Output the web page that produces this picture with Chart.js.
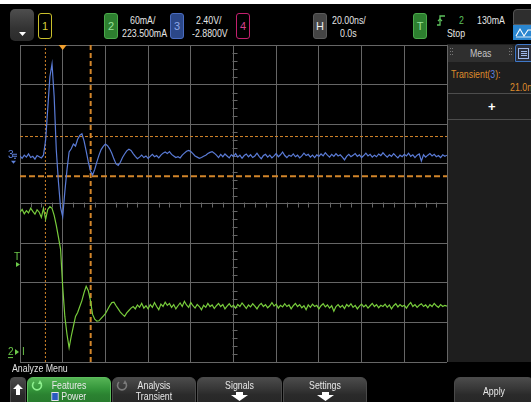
<!DOCTYPE html>
<html>
<head>
<meta charset="utf-8">
<script src="https://cdn.jsdelivr.net/npm/chart.js@4.4.0/dist/chart.umd.min.js"></script>
<style>
  html, body { margin: 0; padding: 0; background: #000; }
  body { width: 531px; height: 402px; position: relative; overflow: hidden;
         font-family: "Liberation Sans", Arial, sans-serif; color: #e6e6e6; }
  .abs { position: absolute; }
  .txt { position: absolute; font-size: 11px; line-height: 11px; white-space: nowrap;
         transform: scaleX(0.8); transform-origin: 0 0; }
  .chbox { position: absolute; top: 13px; width: 14px; height: 26px; box-sizing: border-box; border-radius: 3px;
           font-size: 11px; line-height: 24px; text-align: center; border: 1px solid; }
  .btn { position: absolute; top: 377px; height: 30px; border-radius: 6px; box-sizing: border-box;
         background: linear-gradient(#4b4b4b, #363636 40%, #2a2a2a 60%, #262626); border: 1px solid #4a4a4a; }
  .btn .l1, .btn .l2 { position: absolute; left: 0; right: 0; text-align: center; font-size: 11px; line-height: 11px;
         color: #e8e8e8; white-space: nowrap; transform: scaleX(0.8); transform-origin: 50% 0; }
  .btn .l1 { top: 2px; }
  .btn .l2 { top: 13px; }
  canvas { position: absolute; left: 0; top: 40px; }
</style>
</head>
<body>
<!-- top bar -->
<div class="abs" style="left:0;top:0;width:531px;height:4px;background:#fff"></div>
<div class="abs" style="left:10px;top:9px;width:24px;height:32px;border-radius:5px;background:linear-gradient(#4e4e4e,#333 60%,#2b2b2b);"></div>
<svg class="abs" style="left:19px;top:32px" width="7" height="4"><polygon points="0,0 7,0 3.5,4" fill="#fff"/></svg>

<div class="chbox" style="left:38px;border-color:#c9bf2c;color:#d8cf3a;">1</div>
<div class="chbox" style="left:104px;border-color:#4aa84a;background:#2d7f2f;color:#9be39b;">2</div>
<div class="txt" style="left:130px;top:15px">60mA/</div>
<div class="txt" style="left:122px;top:28px">223.500mA</div>
<div class="chbox" style="left:170px;border-color:#4a6cc0;background:#2b4788;color:#8fa8e8;">3</div>
<div class="txt" style="left:196px;top:15px">2.40V/</div>
<div class="txt" style="left:192px;top:28px">-2.8800V</div>
<div class="chbox" style="left:236px;border-color:#c3206e;color:#d8408a;">4</div>

<div class="chbox" style="left:313px;border-color:#5a5a5a;background:#444;color:#eee;">H</div>
<div class="txt" style="left:332px;top:15px">20.00ns/</div>
<div class="txt" style="left:340px;top:28px">0.0s</div>

<div class="chbox" style="left:413px;border-color:#4aa84a;background:#2d7f2f;color:#9be39b;">T</div>
<svg class="abs" style="left:436px;top:15px" width="10" height="11">
  <polyline points="1,10 4,10 4,1 9,1" fill="none" stroke="#5ec25e" stroke-width="1.3"/>
  <polyline points="2,6 4,4 6,6" fill="none" stroke="#5ec25e" stroke-width="1.2"/>
</svg>
<div class="txt" style="left:459px;top:15px;color:#5ec25e">2</div>
<div class="txt" style="left:477px;top:15px">130mA</div>
<div class="txt" style="left:447px;top:28px">Stop</div>
<div class="abs" style="left:513px;top:9px;width:20px;height:16px;border-radius:4px 0 0 0;background:#2e2e2e;border:1px solid #555;box-sizing:border-box"></div>
<div class="abs" style="left:513px;top:25px;width:20px;height:15px;background:#2a86d0;"></div>
<svg class="abs" style="left:515px;top:27px" width="16" height="11">
  <polyline points="1,9 5,2 9,9 13,3 16,3" fill="none" stroke="#fff" stroke-width="1.1"/>
  <line x1="1" y1="10" x2="16" y2="10" stroke="#fff" stroke-width="0.8"/>
</svg>

<!-- measurement panel -->
<div class="abs" style="left:447px;top:44px;width:84px;height:318px;background:#1e1e1e"></div>
<div class="abs" style="left:447px;top:45px;width:67px;height:17px;background:#2f2f2f;border-radius:4px 4px 0 0"></div>
<div class="txt" style="left:470px;top:48px;font-size:11px;color:#c4c4c4">Meas</div>
<svg class="abs" style="left:450px;top:48px" width="4" height="7"><g fill="#777"><rect x="0" y="0" width="1" height="1"/><rect x="2" y="0" width="1" height="1"/><rect x="0" y="3" width="1" height="1"/><rect x="2" y="3" width="1" height="1"/><rect x="0" y="6" width="1" height="1"/><rect x="2" y="6" width="1" height="1"/></g></svg>
<svg class="abs" style="left:509px;top:48px" width="4" height="7"><g fill="#777"><rect x="0" y="0" width="1" height="1"/><rect x="2" y="0" width="1" height="1"/><rect x="0" y="3" width="1" height="1"/><rect x="2" y="3" width="1" height="1"/><rect x="0" y="6" width="1" height="1"/><rect x="2" y="6" width="1" height="1"/></g></svg>
<div class="abs" style="left:515px;top:44px;width:18px;height:18px;box-sizing:border-box;border:1px solid #3f78c8;border-radius:3px 0 0 0;background:#2a2e3a"></div>
<svg class="abs" style="left:518px;top:48px" width="12" height="11"><rect x="0.5" y="0.5" width="10" height="10" fill="none" stroke="#9fb8e8"/><g stroke="#9fb8e8"><line x1="3" y1="3.5" x2="9" y2="3.5"/><line x1="3" y1="5.5" x2="9" y2="5.5"/><line x1="3" y1="7.5" x2="9" y2="7.5"/></g></svg>
<div class="txt" style="left:451px;top:69px;color:#de8c2c">Transient(<span style="color:#5f82dc">3</span>):</div>
<div class="txt" style="left:510px;top:82px;color:#de8c2c">21.0ns</div>
<div class="abs" style="left:447px;top:93px;width:84px;height:1px;background:#4d4d4d"></div>
<div class="abs" style="left:488px;top:100px;font-size:13px;line-height:13px;font-weight:bold;color:#fff">+</div>
<div class="abs" style="left:447px;top:119px;width:84px;height:1px;background:#4d4d4d"></div>

<!-- scope grid and traces -->
<canvas id="scope" width="448" height="325"></canvas>

<!-- bottom menu -->
<div class="txt" style="left:12px;top:363px;color:#e0e0e0">Analyze Menu</div>
<div class="btn" style="left:10px;width:16px;border-radius:4px;"></div>
<svg class="abs" style="left:13px;top:384px" width="10" height="12"><polygon points="5,0 10,5 7,5 7,11 3,11 3,5 0,5" fill="#fff"/></svg>

<div class="btn" style="left:27px;width:84px;background:linear-gradient(#55b455,#34953a 40%,#2b8231 60%,#27782c);border-color:#5cbc5c;">
  <div class="l1">Features</div>
  <div class="l2"><span style="display:inline-block;width:7px;height:7px;background:#2a5ac0;border:1px solid #e6e6e6;vertical-align:-1px;margin-right:3px"></span>Power</div>
</div>
<svg class="abs" style="left:31px;top:380px" width="12" height="11"><path d="M3,2 A4.5,4.5 0 1 0 9,2" fill="none" stroke="#8ef08e" stroke-width="1.6"/><polygon points="9,0 11,4 7,4" fill="#8ef08e"/></svg>

<div class="btn" style="left:112px;width:84px;">
  <div class="l1">Analysis</div>
  <div class="l2">Transient</div>
</div>
<svg class="abs" style="left:116px;top:380px" width="12" height="11"><path d="M3,2 A4.5,4.5 0 1 0 9,2" fill="none" stroke="#7a7a7a" stroke-width="1.6"/><polygon points="9,0 11,4 7,4" fill="#7a7a7a"/></svg>

<div class="btn" style="left:197px;width:85px;"><div class="l1">Signals</div></div>
<svg class="abs" style="left:231px;top:392px" width="17" height="9"><polygon points="5,0 12,0 12,3 17,3 8.5,9 0,3 5,3" fill="#fff"/></svg>

<div class="btn" style="left:283px;width:84px;"><div class="l1">Settings</div></div>
<svg class="abs" style="left:317px;top:392px" width="17" height="9"><polygon points="5,0 12,0 12,3 17,3 8.5,9 0,3 5,3" fill="#fff"/></svg>

<div class="btn" style="left:454px;width:80px;"><div class="l1" style="top:8px">Apply</div></div>

<script>
// sample grid of the stored waveforms (ns)
const timeStartNs = -100;
const timeStepNs = 1;

// channel 3 (blue), in screen divisions, one sample per ns from -100 to 100
const ch3Div = [
  1.20, 1.14, 1.22, 1.17, 1.25, 1.16, 1.19, 1.12, 1.21, 1.18,
  1.15, 1.22, 1.60, 2.40, 3.20, 3.52, 2.70, 1.35, 0.55, -0.10,
  -0.33, 0.30, 0.85, 1.30, 1.38, 1.50, 1.45, 1.62, 1.72, 1.76,
  1.58, 1.32, 1.05, 0.82, 0.72, 0.86, 1.05, 1.22, 1.36, 1.44,
  1.50, 1.46, 1.38, 1.27, 1.12, 1.00, 0.96, 1.04, 1.16, 1.25,
  1.33, 1.37, 1.34, 1.26, 1.19, 1.13, 1.17, 1.22, 1.16, 1.20,
  1.14, 1.19, 1.24, 1.18, 1.21, 1.15, 1.22, 1.27, 1.30, 1.26,
  1.31, 1.24, 1.20, 1.16, 1.18, 1.15, 1.22, 1.27, 1.32, 1.34,
  1.31, 1.26, 1.20, 1.17, 1.14, 1.16, 1.19, 1.22, 1.26, 1.29,
  1.31, 1.27, 1.22, 1.16, 1.24, 1.18, 1.25, 1.20, 1.15, 1.23,
  1.19, 1.26, 1.17, 1.22, 1.14, 1.21, 1.25, 1.18, 1.23, 1.16,
  1.20, 1.27, 1.19, 1.13, 1.21, 1.24, 1.17, 1.22, 1.15, 1.20,
  1.26, 1.18, 1.23, 1.30, 1.21, 1.16, 1.22, 1.19, 1.25, 1.18,
  1.22, 1.15, 1.20, 1.27, 1.21, 1.24, 1.17, 1.22, 1.16, 1.23,
  1.19, 1.25, 1.20, 1.28, 1.22, 1.17, 1.24, 1.19, 1.26, 1.20,
  1.23, 1.17, 1.10, 1.19, 1.24, 1.18, 1.22, 1.26, 1.19, 1.23,
  1.16, 1.21, 1.27, 1.20, 1.24, 1.17, 1.22, 1.18, 1.25, 1.21,
  1.28, 1.22, 1.17, 1.23, 1.19, 1.26, 1.20, 1.15, 1.22, 1.18,
  1.24, 1.20, 1.27, 1.19, 1.23, 1.16, 1.22, 1.25, 1.07, 1.23,
  1.17, 1.22, 1.26, 1.20, 1.24, 1.18, 1.21, 1.16, 1.23, 1.19, 1.22
];

// channel 2 (green), in screen divisions
const ch2Div = [
  -0.22, -0.15, -0.26, -0.18, -0.24, -0.12, -0.20, -0.27, -0.16, -0.22,
  -0.35, -0.12, -0.40, -0.15, -0.08, -0.12, -0.30, -0.55, -0.85, -1.15,
  -2.10, -2.85, -3.30, -3.64, -3.35, -3.10, -2.85, -2.75, -2.60, -2.45,
  -2.25, -2.09, -2.20, -2.45, -2.80, -2.92, -2.97, -2.96, -2.90, -2.84,
  -2.78, -2.68, -2.58, -2.50, -2.49, -2.58, -2.66, -2.74, -2.80, -2.85,
  -2.76, -2.70, -2.64, -2.60, -2.66, -2.56, -2.62, -2.52, -2.64, -2.58,
  -2.66, -2.55, -2.62, -2.50, -2.60, -2.68, -2.54, -2.60, -2.49, -2.57,
  -2.52, -2.62, -2.55, -2.66, -2.58, -2.51, -2.60, -2.47, -2.56, -2.62,
  -2.50, -2.58, -2.64, -2.55, -2.60, -2.68, -2.57, -2.62, -2.52, -2.60,
  -2.56, -2.65, -2.58, -2.52, -2.60, -2.55, -2.66, -2.59, -2.53, -2.61,
  -2.57, -2.64, -2.55, -2.60, -2.51, -2.58, -2.65, -2.56, -2.61, -2.53,
  -2.59, -2.66, -2.57, -2.52, -2.60, -2.55, -2.63, -2.58, -2.50, -2.59,
  -2.54, -2.64, -2.57, -2.61, -2.53, -2.60, -2.56, -2.66, -2.58, -2.52,
  -2.60, -2.55, -2.63, -2.58, -2.68, -2.56, -2.62, -2.54, -2.60, -2.57,
  -2.66, -2.58, -2.53, -2.61, -2.56, -2.64, -2.58, -2.72, -2.60, -2.55,
  -2.62, -2.57, -2.65, -2.55, -2.60, -2.53, -2.62, -2.57, -2.66, -2.59,
  -2.54, -2.61, -2.56, -2.64, -2.58, -2.52, -2.60, -2.55, -2.63, -2.57,
  -2.60, -2.54, -2.62, -2.56, -2.66, -2.58, -2.53, -2.61, -2.55, -2.60,
  -2.57, -2.64, -2.56, -2.50, -2.60, -2.55, -2.62, -2.57, -2.53, -2.60,
  -2.56, -2.63, -2.55, -2.60, -2.52, -2.58, -2.62, -2.55, -2.60, -2.57, -2.59
];

// cursors and markers
const cursorTimesNs = [-88.1, -66.9];
const cursorLevelsDiv = [1.69, 0.69];
const triggerTimeNs = -80;
const ch3GroundDiv = 1.18;
const triggerLevelDiv = -1.45;
const ch2GroundDiv = -3.75;

const GRID = '#666666';
const ORANGE = '#d2852a';

const toPoints = arr => arr.map((v, i) => ({ x: timeStartNs + i * timeStepNs, y: v }));

const scopeDecor = {
  id: 'scopeDecor',
  beforeDatasetsDraw(chart) {
    const { ctx, scales: { x, y } } = chart;
    const x0 = Math.round(x.getPixelForValue(0)) + 0.5;
    const y0 = Math.round(y.getPixelForValue(0)) + 0.5;
    ctx.save();
    ctx.strokeStyle = GRID;
    ctx.lineWidth = 1;
    ctx.beginPath();
    for (let t = -100; t <= 100; t += 5) {
      if (t % 20 === 0) continue;
      const px = Math.round(x.getPixelForValue(t)) + 0.5;
      ctx.moveTo(px, y0 - 2); ctx.lineTo(px, y0 + 3);
    }
    for (let v = -40; v <= 40; v += 2) {
      if (v % 10 === 0) continue;
      const py = Math.round(y.getPixelForValue(v / 10)) + 0.5;
      ctx.moveTo(x0 - 2, py); ctx.lineTo(x0 + 3, py);
    }
    ctx.stroke();
    ctx.restore();
  },
  afterDraw(chart) {
    const { ctx, chartArea, scales: { x, y } } = chart;
    ctx.save();
    // trigger position marker
    const tx = x.getPixelForValue(triggerTimeNs);
    ctx.fillStyle = '#f0a030';
    ctx.beginPath();
    ctx.moveTo(tx - 4, chartArea.top);
    ctx.lineTo(tx + 4, chartArea.top);
    ctx.lineTo(tx, chartArea.top + 5);
    ctx.closePath();
    ctx.fill();

    ctx.font = '10px "Liberation Sans", Arial, sans-serif';
    ctx.textBaseline = 'middle';
    // channel 3 ground
    let py = y.getPixelForValue(ch3GroundDiv);
    ctx.fillStyle = '#5f82dc';
    ctx.fillText('3', 8, py - 1);
    ctx.fillRect(13, py - 3, 4, 1);
    ctx.fillRect(13, py - 1, 4, 1);
    ctx.fillRect(14, py + 1, 2, 1);
    ctx.beginPath();
    ctx.moveTo(11, py + 4); ctx.lineTo(16, py + 4); ctx.lineTo(13.5, py + 7); ctx.closePath();
    ctx.fill();
    // trigger level
    py = y.getPixelForValue(triggerLevelDiv);
    ctx.fillStyle = '#6cc84a';
    ctx.fillText('T', 14, py - 4);
    ctx.beginPath();
    ctx.moveTo(16, py + 1); ctx.lineTo(20, py + 3.5); ctx.lineTo(16, py + 6); ctx.closePath();
    ctx.fill();
    // channel 2 ground
    py = y.getPixelForValue(ch2GroundDiv);
    ctx.fillText('2', 8, py);
    ctx.fillRect(8, py + 5, 5, 1);
    ctx.beginPath();
    ctx.moveTo(15, py - 3); ctx.lineTo(19, py); ctx.lineTo(15, py + 3); ctx.closePath();
    ctx.fill();
    ctx.fillText('I', 22, py);
    ctx.restore();
  }
};

new Chart(document.getElementById('scope'), {
  type: 'line',
  data: {
    datasets: [
      { data: toPoints(ch3Div), borderColor: '#5a7bd6', borderWidth: 1.2 },
      { data: toPoints(ch2Div), borderColor: '#78cc3c', borderWidth: 1.2 },
      { data: [{ x: cursorTimesNs[0], y: -4 }, { x: cursorTimesNs[0], y: 4 }], borderColor: ORANGE, borderWidth: 1, borderDash: [2, 2] },
      { data: [{ x: cursorTimesNs[1], y: -4 }, { x: cursorTimesNs[1], y: 4 }], borderColor: ORANGE, borderWidth: 2, borderDash: [5, 3] },
      { data: [{ x: -100, y: cursorLevelsDiv[0] }, { x: 100, y: cursorLevelsDiv[0] }], borderColor: ORANGE, borderWidth: 1, borderDash: [3, 2] },
      { data: [{ x: -100, y: cursorLevelsDiv[1] }, { x: 100, y: cursorLevelsDiv[1] }], borderColor: ORANGE, borderWidth: 2, borderDash: [6, 3] }
    ]
  },
  options: {
    responsive: false,
    animation: false,
    events: [],
    layout: { padding: { left: 20, top: 5, right: 1, bottom: 3 } },
    elements: { point: { radius: 0 }, line: { tension: 0 } },
    plugins: { legend: { display: false }, tooltip: { enabled: false } },
    scales: {
      x: {
        type: 'linear', min: -100, max: 100,
        ticks: { display: false, stepSize: 20 },
        grid: { color: GRID, lineWidth: 1, drawTicks: false },
        border: { display: false }
      },
      y: {
        type: 'linear', min: -4, max: 4,
        ticks: { display: false, stepSize: 1 },
        grid: { color: GRID, lineWidth: 1, drawTicks: false },
        border: { display: false }
      }
    }
  },
  plugins: [scopeDecor]
});
</script>
</body>
</html>
